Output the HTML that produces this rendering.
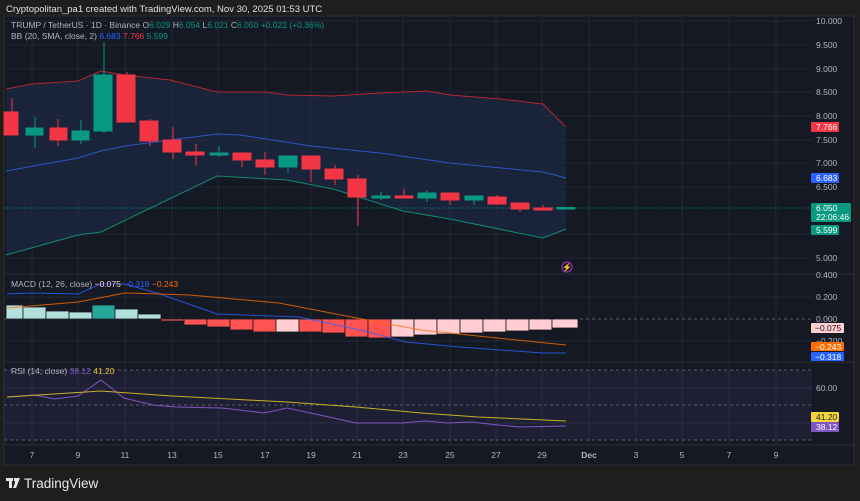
<!DOCTYPE html>
<html><head><meta charset="utf-8"><style>
html,body{margin:0;padding:0;background:#1e1e1e;}
svg{display:block;font-family:"Liberation Sans",sans-serif;}
</style></head><body>
<svg width="860" height="501" viewBox="0 0 860 501" xmlns="http://www.w3.org/2000/svg">
<rect width="860" height="501" fill="#1e1e1e"/>
<text x="6" y="12" font-size="9.5" fill="#e0e0e0">Cryptopolitan_pa1 created with TradingView.com, Nov 30, 2025 01:53 UTC</text>
<rect x="4" y="16" width="850" height="449" fill="#151924" stroke="#2a2e39" stroke-width="1"/>
<!-- grid -->
<g stroke="#222735" stroke-width="1">
<line x1="4" x2="812" y1="21" y2="21"/><line x1="4" x2="812" y1="45" y2="45"/><line x1="4" x2="812" y1="69" y2="69"/><line x1="4" x2="812" y1="92" y2="92"/><line x1="4" x2="812" y1="116" y2="116"/><line x1="4" x2="812" y1="140" y2="140"/><line x1="4" x2="812" y1="163" y2="163"/><line x1="4" x2="812" y1="187" y2="187"/><line x1="4" x2="812" y1="234" y2="234"/><line x1="4" x2="812" y1="258" y2="258"/>
<line x1="4" x2="812" y1="297" y2="297"/><line x1="4" x2="812" y1="341" y2="341"/><line x1="4" x2="812" y1="388" y2="388"/><line x1="4" x2="812" y1="423" y2="423"/>
<line x1="32" x2="32" y1="16" y2="445"/><line x1="78" x2="78" y1="16" y2="445"/><line x1="125" x2="125" y1="16" y2="445"/><line x1="172" x2="172" y1="16" y2="445"/><line x1="218" x2="218" y1="16" y2="445"/><line x1="265" x2="265" y1="16" y2="445"/><line x1="311" x2="311" y1="16" y2="445"/><line x1="357" x2="357" y1="16" y2="445"/><line x1="403" x2="403" y1="16" y2="445"/><line x1="450" x2="450" y1="16" y2="445"/><line x1="496" x2="496" y1="16" y2="445"/><line x1="542" x2="542" y1="16" y2="445"/><line x1="589" x2="589" y1="16" y2="445"/><line x1="636" x2="636" y1="16" y2="445"/><line x1="682" x2="682" y1="16" y2="445"/><line x1="729" x2="729" y1="16" y2="445"/><line x1="776" x2="776" y1="16" y2="445"/>
</g>
<line x1="4" x2="854" y1="274" y2="274" stroke="#2a2e39"/>
<line x1="4" x2="854" y1="362" y2="362" stroke="#2a2e39"/>
<line x1="4" x2="854" y1="445" y2="445" stroke="#2a2e39"/>
<!-- BB fill -->
<polygon fill="#1e2c4a" fill-opacity="0.55" points="6,89 32,84 78,81 101,71 125,75 170,80 217,92 265,92 287,95 333,96 380,93 427,91 450,95 500,99 543,104 566,127 566,229 543,238 450,219 403,211 333,189 287,180 217,176 101,232 78,235 6,255"/>
<polyline fill="none" stroke="#b22833" stroke-width="1" points="6,89 32,84 78,81 101,71 125,75 170,80 217,92 265,92 287,95 333,96 380,93 427,91 450,95 500,99 543,104 566,127"/>
<polyline fill="none" stroke="#2c55c8" stroke-width="1" points="6,171 78,158 101,151 125,146 170,140 217,134 240,135 311,146 380,153 450,163 543,172 566,178"/>
<polyline fill="none" stroke="#138a70" stroke-width="1" points="6,255 78,235 101,232 217,176 287,180 333,189 403,211 450,219 543,238 566,229"/>
<line x1="4" x2="812" y1="208" y2="208" stroke="#089981" stroke-dasharray="1,2" stroke-width="1"/>
<!-- candles -->
<g stroke-width="1">
<g stroke="#f23645" fill="#f23645">
<line x1="12" x2="12" y1="98" y2="135"/><rect x="4" y="112" width="14" height="23"/>
<line x1="58" x2="58" y1="119" y2="146"/><rect x="50" y="128" width="17" height="12"/>
<line x1="127" x2="127" y1="72" y2="122"/><rect x="117" y="75" width="18" height="47"/>
<line x1="150" x2="150" y1="119" y2="146"/><rect x="140" y="121" width="18" height="20"/>
<line x1="173" x2="173" y1="127" y2="159"/><rect x="163" y="140" width="18" height="12"/>
<line x1="196" x2="196" y1="144" y2="166"/><rect x="186" y="152" width="18" height="3"/>
<line x1="242" x2="242" y1="152" y2="167"/><rect x="233" y="153" width="18" height="7"/>
<line x1="265" x2="265" y1="152" y2="175"/><rect x="256" y="160" width="18" height="7"/>
<line x1="311" x2="311" y1="156" y2="182"/><rect x="302" y="156" width="18" height="13"/>
<line x1="335" x2="335" y1="165" y2="185"/><rect x="325" y="169" width="18" height="10"/>
<line x1="358" x2="358" y1="175" y2="226"/><rect x="348" y="179" width="18" height="18"/>
<line x1="404" x2="404" y1="189" y2="198"/><rect x="395" y="196" width="18" height="2"/>
<line x1="450" x2="450" y1="192" y2="205"/><rect x="441" y="193" width="18" height="7"/>
<line x1="497" x2="497" y1="195" y2="205"/><rect x="488" y="197" width="18" height="7"/>
<line x1="520" x2="520" y1="202" y2="212"/><rect x="511" y="203" width="18" height="6"/>
<line x1="543" x2="543" y1="205" y2="210"/><rect x="534" y="208" width="18" height="2"/>
</g>
<g stroke="#089981" fill="#089981">
<line x1="35" x2="35" y1="117" y2="148"/><rect x="26" y="128" width="17" height="7"/>
<line x1="81" x2="81" y1="120" y2="144"/><rect x="72" y="131" width="17" height="9"/>
<line x1="104" x2="104" y1="42" y2="133"/><rect x="94" y="75" width="18" height="56"/>
<line x1="219" x2="219" y1="146" y2="157"/><rect x="210" y="153" width="18" height="2"/>
<line x1="288" x2="288" y1="156" y2="173"/><rect x="279" y="156" width="18" height="11"/>
<line x1="381" x2="381" y1="192" y2="200"/><rect x="372" y="196" width="18" height="2"/>
<line x1="427" x2="427" y1="190" y2="202"/><rect x="418" y="193" width="18" height="5"/>
<line x1="474" x2="474" y1="195" y2="205"/><rect x="465" y="196" width="18" height="4"/>
<rect x="557" y="207.5" width="18" height="1.5"/>
</g>
</g>
<circle cx="567" cy="267" r="5" fill="none" stroke="#9c27b0" stroke-width="1.2"/>
<text x="567" y="270" font-size="8" fill="#9c27b0" text-anchor="middle">⚡</text>
<!-- MACD -->
<line x1="4" x2="812" y1="319" y2="319" stroke="#555a66" stroke-dasharray="3,3"/>
<g stroke="#15181f" stroke-width="0.8">
<rect x="6" y="305" width="17" height="14" fill="#b2dfdb"/>
<rect x="23" y="307" width="23" height="12" fill="#b2dfdb"/>
<rect x="46" y="311" width="23" height="8" fill="#b2dfdb"/>
<rect x="69" y="312" width="23" height="7" fill="#b2dfdb"/>
<rect x="92" y="305" width="23" height="14" fill="#26a69a"/>
<rect x="115" y="309" width="23" height="10" fill="#b2dfdb"/>
<rect x="138" y="314" width="23" height="5" fill="#b2dfdb"/>
<rect x="161" y="319" width="23" height="2" fill="#ff5252"/>
<rect x="184" y="319" width="23" height="6" fill="#ff5252"/>
<rect x="207" y="319" width="23" height="8" fill="#ff5252"/>
<rect x="230" y="319" width="23" height="11" fill="#ff5252"/>
<rect x="253" y="319" width="23" height="13" fill="#ff5252"/>
<rect x="276" y="319" width="23" height="13" fill="#ffcdd2"/>
<rect x="299" y="319" width="23" height="13" fill="#ff5252"/>
<rect x="322" y="319" width="23" height="14" fill="#ff5252"/>
<rect x="345" y="319" width="23" height="18" fill="#ff5252"/>
<rect x="368" y="319" width="23" height="19" fill="#ff5252"/>
<rect x="391" y="319" width="23" height="18" fill="#ffcdd2"/>
<rect x="414" y="319" width="23" height="16" fill="#ffcdd2"/>
<rect x="437" y="319" width="23" height="15" fill="#ffcdd2"/>
<rect x="460" y="319" width="23" height="14" fill="#ffcdd2"/>
<rect x="483" y="319" width="23" height="13" fill="#ffcdd2"/>
<rect x="506" y="319" width="23" height="12" fill="#ffcdd2"/>
<rect x="529" y="319" width="23" height="11" fill="#ffcdd2"/>
<rect x="552" y="319" width="26" height="9" fill="#ffcdd2"/>
</g>
<polyline fill="none" stroke="#2962ff" stroke-opacity="0.8" stroke-width="1" points="7,294 30,293 78,294 101,284 125,284 160,294 217,314 299,317 360,330 406,342 459,347 543,353 566,353"/>
<polyline fill="none" stroke="#ff6d00" stroke-opacity="0.8" stroke-width="1" points="7,308 78,302 125,293 160,294 190,295 279,303 367,320 421,330 497,338 566,345"/>
<!-- RSI -->
<rect x="4" y="370" width="808" height="70" fill="#7e57c2" fill-opacity="0.1"/>
<g stroke="#5a5e6a" stroke-dasharray="3,3"><line x1="4" x2="812" y1="370" y2="370"/><line x1="4" x2="812" y1="405" y2="405"/><line x1="4" x2="812" y1="440" y2="440"/></g>
<polyline fill="none" stroke="#7e57c2" stroke-width="1" points="7,397 34,395 55,399 78,396 101,380 124,398 153,405 176,407 222,408 264,413 287,408 329,417 356,423 402,423 425,421 448,423 471,422 498,425 520,427 566,426"/>
<polyline fill="none" stroke="#c9b029" stroke-width="1" points="7,397 101,391 115,392 172,396 287,402 356,407 421,413 478,417 566,421"/>
<!-- legends -->
<g font-size="8.5">
<text x="11" y="28" fill="#b2b5be">TRUMP / TetherUS · 1D · Binance <tspan>O</tspan><tspan fill="#089981">6.029</tspan> H<tspan fill="#089981">6.054</tspan> L<tspan fill="#089981">6.021</tspan> C<tspan fill="#089981">6.050</tspan> <tspan fill="#089981">+0.022 (+0.36%)</tspan></text>
<text x="11" y="39" fill="#b2b5be">BB (20, SMA, close, 2) <tspan fill="#2962ff">6.683</tspan> <tspan fill="#f23645">7.766</tspan> <tspan fill="#089981">5.599</tspan></text>
<text x="11" y="287" fill="#b2b5be">MACD (12, 26, close) <tspan fill="#ffcdd2">−0.075</tspan> <tspan fill="#2962ff">−0.318</tspan> <tspan fill="#ff6d00">−0.243</tspan></text>
<text x="11" y="374" fill="#b2b5be">RSI (14, close) <tspan fill="#7e57c2">38.12</tspan> <tspan fill="#e8c528">41.20</tspan></text>
</g>
<!-- axis labels -->
<g font-size="8.5" fill="#b2b5be">
<text x="816" y="24">10.000</text><text x="816" y="48">9.500</text><text x="816" y="72">9.000</text><text x="816" y="95">8.500</text><text x="816" y="119">8.000</text><text x="816" y="143">7.500</text><text x="816" y="166">7.000</text><text x="816" y="190">6.500</text><text x="816" y="261">5.000</text>
<text x="816" y="278">0.400</text><text x="816" y="300">0.200</text><text x="816" y="322">0.000</text><text x="816" y="344">−0.200</text>
<text x="816" y="391">60.00</text>
</g>
<g font-size="8.5">
<rect x="811" y="122" width="28" height="10" rx="1" fill="#f23645"/><text x="816" y="130" fill="#fff">7.766</text>
<rect x="811" y="173" width="28" height="10" rx="1" fill="#2962ff"/><text x="816" y="181" fill="#fff">6.683</text>
<rect x="811" y="203" width="40" height="19" rx="1" fill="#089981"/><text x="816" y="211" fill="#fff">6.050</text><text x="816" y="220" fill="#fff">22:06:46</text>
<rect x="811" y="225" width="28" height="10" rx="1" fill="#089981"/><text x="816" y="233" fill="#fff">5.599</text>
<rect x="811" y="323" width="33" height="10" rx="1" fill="#ffcdd2"/><text x="815" y="331" fill="#222">−0.075</text>
<rect x="811" y="342" width="33" height="9" rx="1" fill="#ff6d00"/><text x="815" y="350" fill="#fff">−0.243</text>
<rect x="811" y="352" width="33" height="9" rx="1" fill="#2962ff"/><text x="815" y="360" fill="#fff">−0.318</text>
<rect x="811" y="412" width="28" height="10" rx="1" fill="#f5d63a"/><text x="816" y="420" fill="#222">41.20</text>
<rect x="811" y="422" width="28" height="10" rx="1" fill="#7e57c2"/><text x="816" y="430" fill="#fff">38.12</text>
</g>
<g font-size="8.5" fill="#b2b5be" text-anchor="middle">
<text x="32" y="458">7</text><text x="78" y="458">9</text><text x="125" y="458">11</text><text x="172" y="458">13</text><text x="218" y="458">15</text><text x="265" y="458">17</text><text x="311" y="458">19</text><text x="357" y="458">21</text><text x="403" y="458">23</text><text x="450" y="458">25</text><text x="496" y="458">27</text><text x="542" y="458">29</text><text x="589" y="458" font-weight="bold">Dec</text><text x="636" y="458">3</text><text x="682" y="458">5</text><text x="729" y="458">7</text><text x="776" y="458">9</text>
</g>
<!-- logo -->
<g fill="#e8e8e8">
<rect x="6" y="478" width="7" height="3"/><rect x="9" y="478" width="3" height="10"/>
<polygon points="14,478 20,478 16,488 13,488 15,483"/>
<rect x="14" y="478" width="3" height="3"/>
</g>
<text x="24" y="488" font-size="13.5" fill="#e8e8e8">TradingView</text>
</svg>
</body></html>
